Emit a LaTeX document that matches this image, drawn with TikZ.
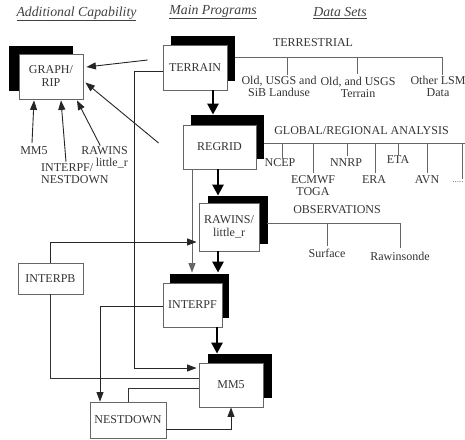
\documentclass[tikz,border=0pt]{standalone}
\usepackage{fontspec}
\setmainfont{Liberation Serif}
\usetikzlibrary{arrows.meta,shadows,calc}
\begin{document}
\begin{tikzpicture}[x=1pt,y=-1pt,
  txt/.style={text=black!80, font=\fontsize{12}{12}\selectfont, align=center, inner sep=0pt},
  small/.style={text=black!60, font=\fontsize{9}{9}\selectfont, inner sep=0pt},
  hdr/.style={text=black!75, font=\fontsize{13.8}{14}\selectfont\itshape, inner sep=0pt},
  box/.style={draw=black!60, line width=0.8pt, fill=white, text=black!80, font=\fontsize{12}{13}\selectfont, align=center, inner sep=0pt},
  sh/.style 2 args={general shadow={fill=black, shadow xshift=#1pt, shadow yshift=#2pt}},
  tarrow/.style={draw=black!85, line width=0.9pt, -{Triangle[length=9.5pt,width=7pt]}},
  tline/.style={draw=black!80, line width=0.9pt},
  dline/.style={draw=black!60, line width=0.8pt},
  barrow/.style={draw=black, line width=2.6pt, -{Triangle[length=11pt,width=11pt]}}
]
\useasboundingbox (0,0) rectangle (465,439);

% headers
\node[hdr] (h1) at (76.5,14) {\underline{Additional Capability}};
\node[hdr] (h2) at (213,12) {\underline{Main Programs}};
\node[hdr] (h3) at (340,13) {\underline{Data Sets}};

% boxes
\node[box, sh={-10}{8}, minimum width=64pt, minimum height=45pt] (graph) at (51,76.5) {GRAPH/\\RIP};
\node[box, sh={8}{9.5}, minimum width=64pt, minimum height=45pt] (terrain) at (195,67.5) {TERRAIN};
\node[box, sh={8}{10}, minimum width=73pt, minimum height=44pt] (regrid) at (219.5,147) {REGRID};
\node[box, sh={9}{7}, minimum width=60pt, minimum height=48pt] (rawins) at (229,227) {RAWINS/\\little\_r};
\node[box, sh={6.5}{9.5}, minimum width=59pt, minimum height=44pt] (interpf) at (192.5,305) {INTERPF};
\node[box, sh={9}{9}, minimum width=64pt, minimum height=44pt] (mm5) at (231,385) {MM5};
\node[box, minimum width=65pt, minimum height=31pt] (interpb) at (50.5,278.5) {INTERPB};
\node[box, minimum width=76pt, minimum height=36pt] (nestdown) at (128,420) {NESTDOWN};

% labels under GRAPH/RIP
\node[txt] (lmm5) at (34,151) {MM5};
\node[txt, align=left, anchor=west] (lintf) at (41,174) {INTERPF/\\NESTDOWN};
\node[txt, align=right, anchor=east] (lraw) at (128,157.5) {RAWINS\\little\_r};

\draw[tarrow] ($(lmm5)+(-2,-8)$) -- ($(graph.south)+(-17,1)$);
\draw[tarrow] ($(lintf.north west)+(25,-2)$) -- ($(graph.south)+(10,1)$);
\draw[tarrow] ($(lraw.north west)+(19,-1)$) -- ($(graph.south)+(26,1)$);

% arrows into GRAPH/RIP
\draw[tarrow] ($(terrain.west)+(-15,-7.5)$) -- ($(graph.east)+(3,-9.5)$);
\draw[tarrow] ($(regrid.west)+(-24,-4)$) -- ($(graph.east)+(2,6)$);

% main chain (thick)
\draw[barrow] ($(terrain.south)+(18,0)$) -- ($(regrid.north)+(-6.5,-10)$);
\draw[barrow] ($(regrid.south)+(-1.5,0)$) -- ($(rawins.north)+(-11,-7)$);
\draw[barrow] ($(rawins.south)+(-11,0)$) -- ($(interpf.north)+(25.5,-10)$);
\draw[barrow] ($(interpf.south)+(24.5,0)$) -- ($(mm5.north)+(-14,-9)$);

% thin connectors
\draw[tarrow] ($(terrain.west)+(0,3.5)$) -- ++(-28,0) |- ($(mm5.west)+(-2,-17)$);
\draw[tarrow, draw=black!60] ($(regrid.south)+(-27.5,0)$) -- ($(interpf.north)+(-0.5,-10)$);
\draw[tarrow] (interpb.north) |- ($(rawins.west)+(-2,15)$);
\draw[tline] (interpb.south) |- ($(mm5.west)+(0,-7)$);
\draw[tarrow] ($(interpf.west)+(0,1)$) -| ($(nestdown.north)+(-28,0)$);
\draw[tline] (nestdown.north) |- ($(mm5.west)+(0,3)$);
\draw[tarrow] ($(nestdown.east)+(0,9)$) -| (mm5.south);

% TERRESTRIAL data sets
\node[txt] (terr) at (313,43) {TERRESTRIAL};
\coordinate (t1) at (287,57);
\coordinate (t2) at (357,57);
\coordinate (t3) at (442,57);
\draw[dline] ($(terrain.east)+(8,-10.5)$) -- (t3);
\node[txt] (lu) at (279,86) {Old, USGS and\\SiB Landuse};
\node[txt] (tt) at (358,87) {Old, and USGS\\Terrain};
\node[txt] (lsm) at (438,86) {Other LSM\\Data};
\draw[dline] (t1) -- ++(0,18);
\draw[dline] (t2) -- ++(0,17);
\draw[dline] (t3) -- ++(0,18);

% GLOBAL/REGIONAL ANALYSIS
\node[txt] (glob) at (361.5,131) {GLOBAL/REGIONAL ANALYSIS};
\coordinate (gend) at (465,143);
\draw[dline] ($(regrid.east)+(8,-4)$) -- (gend);
\node[txt] (ncep) at (280,163) {NCEP};
\node[txt] (ecmwf) at (313,186) {ECMWF\\TOGA};
\node[txt] (nnrp) at (346,163) {NNRP};
\node[txt] (era) at (374,180) {ERA};
\node[txt] (eta) at (398,160) {ETA};
\node[txt] (avn) at (427,180) {AVN};
\node[small] (dots) at (458,182) {.....};
\foreach \x/\l in {282/15, 313/30, 347/13, 375/30, 398/12, 427/30, 462/36}
  \draw[dline] (\x,143) -- ++(0,\l);

% OBSERVATIONS
\node[txt] (obs) at (337,210) {OBSERVATIONS};
\coordinate (o1) at (327,223);
\coordinate (o2) at (400,223);
\draw[dline] ($(rawins.east)+(8,-4)$) -- (o2);
\draw[dline] (o1) -- ++(0,23);
\draw[dline] (o2) -- ++(0,25);
\node[txt] (surf) at (327,253) {Surface};
\node[txt] (raws) at (400,256) {Rawinsonde};
\end{tikzpicture}
\end{document}
